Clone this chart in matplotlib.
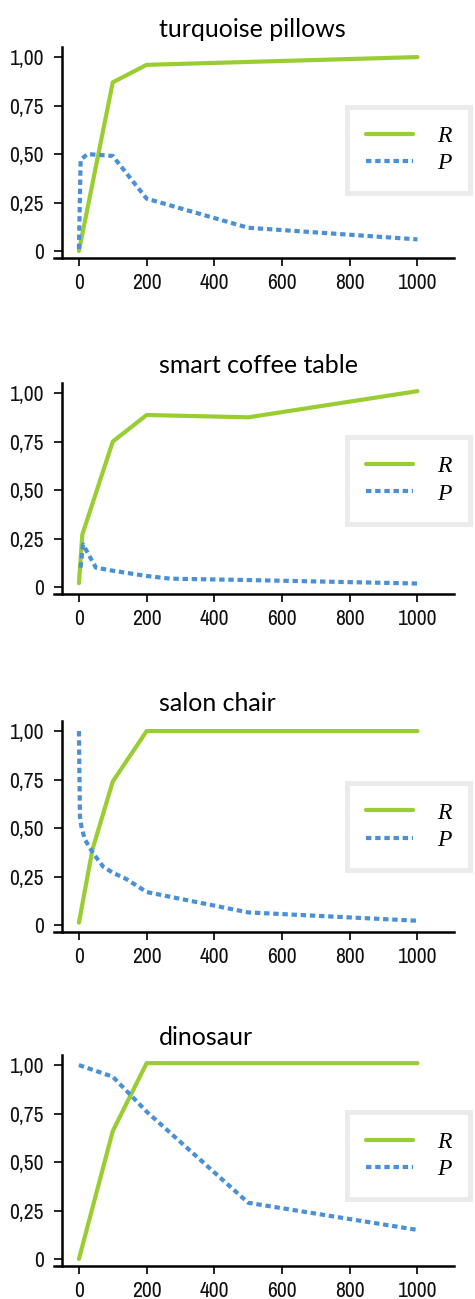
import matplotlib
matplotlib.use("Agg")
import matplotlib.pyplot as plt
import matplotlib.transforms as mtransforms

# Panel titles
titles = ["turquoise pillows", "smart coffee table", "salon chair", "dinosaur"]

# Recall (R) per panel
recall_x = [[0, 100, 200, 1000],
            [0, 10, 100, 200, 500, 1000],
            [0, 40, 100, 200, 1000],
            [0, 100, 200, 1000]]
recall_y = [[0.0, 0.87, 0.96, 1.0],
            [0.02, 0.27, 0.75, 0.887, 0.875, 1.01],
            [0.012, 0.39, 0.74, 1.0, 1.0],
            [0.0, 0.66, 1.01, 1.01]]

# Precision (P) per panel
precision_x = [[0, 5, 25, 100, 200, 500, 1000],
               [5, 12, 50, 100, 200, 270, 500, 1000],
               [0, 3, 8, 18, 42, 72, 100, 140, 200, 500, 1000],
               [0, 100, 200, 500, 1000]]
precision_y = [[0.01, 0.47, 0.50, 0.49, 0.27, 0.12, 0.06],
               [0.10, 0.22, 0.10, 0.084, 0.057, 0.043, 0.036, 0.018],
               [1.0, 0.56, 0.50, 0.44, 0.37, 0.30, 0.27, 0.237, 0.17, 0.065, 0.022],
               [1.0, 0.94, 0.76, 0.29, 0.15]]

xticks = [0, 200, 400, 600, 800, 1000]
yticks = [0, 0.25, 0.5, 0.75, 1.0]
ytick_labels = ["0", "0,25", "0,50", "0,75", "1,00"]

GREEN = "#9acd32"
BLUE = "#4a90d9"

W, H = 475, 1299
fig = plt.figure(figsize=(W / 100, H / 100), dpi=100)

panel_tops = [47, 383, 721, 1055]
legend_yc = [0.512, 0.539, 0.499, 0.522]
tick_font = ["Archivo Narrow", "Liberation Sans Narrow", "DejaVu Sans"]

for i, top in enumerate(panel_tops):
    ax = fig.add_axes([62 / W, 1 - (top + 211) / H, 392 / W, 211 / H])
    ax.plot(recall_x[i], recall_y[i], color=GREEN, lw=3, label="R",
            solid_capstyle="round", solid_joinstyle="round")
    ax.plot(precision_x[i], precision_y[i], color=BLUE, lw=3, label="P",
            dashes=(1.3, 0.9), dash_capstyle="butt")

    ax.set_xlim(-50, 1108)
    ax.set_ylim(-0.036, 1.052)
    ax.set_xticks(xticks)
    ax.set_xticklabels([str(t) for t in xticks], family=tick_font, fontsize=15.5, color="#111111")
    ax.set_yticks(yticks)
    ax.set_yticklabels(ytick_labels, family=tick_font, fontsize=15.5, color="#111111")
    ax.tick_params(axis="both", direction="out", length=6, width=1.2, color="black")
    ax.tick_params(axis="y", pad=7)
    ax.tick_params(axis="x", pad=5)

    for side in ("top", "right"):
        ax.spines[side].set_visible(False)
    for side in ("left", "bottom"):
        ax.spines[side].set_linewidth(1.8)
        ax.spines[side].set_color("black")
    ax.spines["bottom"].set_bounds(-74, 1108)

    # left-aligned title above the axes
    offset = mtransforms.offset_copy(ax.transAxes, fig=fig, x=0, y=10, units="dots")
    ax.text(0.247, 1.0, titles[i], transform=offset, ha="left", va="baseline",
            family=["Lato", "DejaVu Sans"], fontsize=18, color="black")

    leg = ax.legend(loc="center left", bbox_to_anchor=(0.727, legend_yc[i]),
                    borderaxespad=0, frameon=True, fancybox=False, framealpha=1,
                    handlelength=2.0, handletextpad=1.0, borderpad=0.8, labelspacing=0.25,
                    prop={"family": "Liberation Serif", "style": "italic", "size": 17})
    leg.get_frame().set_edgecolor("#ebebeb")
    leg.get_frame().set_linewidth(3.6)

fig.savefig("out.png", dpi=100)
